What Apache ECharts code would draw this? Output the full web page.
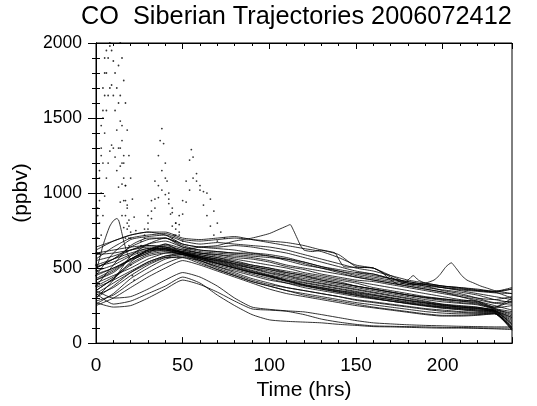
<!DOCTYPE html>
<html>
<head>
<meta charset="utf-8">
<script src="https://cdn.jsdelivr.net/npm/echarts@6/dist/echarts.min.js"></script>
<style>
html,body{margin:0;padding:0;background:#fff;}
#chart{width:537px;height:406px;}
</style>
</head>
<body>
<div id="chart"></div>
<script>
// ---- Data ----
const titleText = 'CO  Siberian Trajectories 2006072412';
const times = [0,10,20,30,40,50,60,70,80,90,100,110,120,130,140,150,160,170,180,190,200,210,220,230,240];

// upper group
const U1 = [560,640,700,720,730,690,680,690,700,690,680,670,650,620,590,510,500,440,390,390,380,370,355,345,370];
const U2 = [450,600,690,710,720,680,660,670,660,650,640,620,590,560,530,500,480,450,420,400,380,365,350,340,360];
const U3 = [380,520,650,700,700,660,640,640,650,640,620,600,570,540,510,480,460,430,410,390,370,355,345,335,330];
const U4 = [620,680,720,740,740,700,690,700,710,690,670,650,630,610,570,520,500,450,400,380,370,360,350,340,300];
const U5 = [500,560,640,690,700,650,620,610,600,600,590,570,540,510,490,470,450,430,410,390,370,350,330,310,290];
const U6 = [300,420,580,660,700,640,610,600,590,580,570,560,540,510,480,450,430,410,390,370,355,340,320,290,270];
// intermediate group
const P1 = [500,560,620,660,680,640,620,610,600,590,580,560,530,500,480,460,440,420,400,380,350,330,300,270,280];
const P2 = [420,480,560,620,650,620,600,590,580,570,550,520,500,480,460,440,420,400,380,360,340,320,300,290,310];
const P3 = [640,680,720,740,720,660,640,630,620,600,580,550,520,500,470,440,420,400,380,360,340,310,280,250,220];
const P4 = [350,430,540,620,660,630,600,590,570,560,540,510,490,460,440,420,410,390,370,350,330,310,290,265,260];
// main band
const M1 = [420,470,560,620,630,610,580,560,530,500,480,450,420,400,380,360,340,320,300,280,260,250,240,215,160];
const M2 = [350,430,520,580,600,600,570,540,510,480,450,420,390,370,350,330,310,290,270,255,240,230,222,210,140];
const M3 = [480,520,580,620,620,590,550,510,480,450,420,400,380,360,340,320,300,280,265,250,235,225,215,205,110];
const M4 = [300,380,470,540,580,590,550,500,460,420,390,370,350,330,310,285,270,255,240,225,212,205,200,200,95];
const M5 = [550,580,620,650,640,600,570,550,520,500,470,450,430,410,390,370,350,330,310,290,275,265,255,225,180];
const M6 = [260,330,430,500,560,580,540,490,450,410,380,350,320,300,280,260,240,225,210,195,185,185,190,195,85];
const M7 = [400,450,500,560,600,610,590,570,540,510,490,460,440,420,400,380,360,340,320,300,285,270,260,230,210];
const M8 = [330,400,470,530,570,570,530,490,450,410,380,350,330,310,290,270,255,240,225,210,200,195,195,200,100];
const M9 = [600,620,640,650,640,610,590,570,550,520,500,480,460,440,420,400,370,350,330,310,295,280,265,230,190];
const M10 = [450,500,550,600,620,600,560,520,490,460,430,400,370,350,330,310,295,280,265,250,240,230,220,210,130];
const M11 = [280,320,400,470,530,570,550,510,470,430,400,370,350,330,310,290,275,260,245,230,220,210,205,200,105];
const M12 = [520,560,600,630,620,590,570,550,530,510,490,470,450,430,410,380,360,340,320,305,290,280,270,235,250];
const M13 = [370,420,480,540,580,600,570,530,500,470,440,410,385,365,345,325,305,290,275,260,245,235,228,212,150];
const M14 = [250,300,370,440,500,550,520,480,440,400,360,330,310,290,270,250,235,220,205,190,180,180,185,195,90];
const M15 = [460,500,560,610,640,620,600,580,560,540,520,500,470,450,430,410,390,370,350,330,310,290,275,240,280];
const M16 = [590,600,620,640,630,600,580,560,540,520,500,470,450,420,400,380,360,340,320,305,295,285,280,240,300];
const M17 = [380,440,530,590,610,590,560,530,500,470,445,415,390,370,350,335,318,300,282,266,250,240,232,218,170];
const M18 = [510,540,590,630,630,600,575,545,515,485,455,430,405,385,365,345,325,305,285,268,252,242,235,220,125];
const M19 = [430,490,560,610,625,605,580,555,525,495,465,440,415,395,375,355,335,315,295,275,258,246,238,222,200];
const M20 = [320,370,450,520,570,590,565,535,505,475,445,415,385,360,338,318,298,280,262,246,232,222,212,205,120];
// lower group
const L1 = [330,260,280,330,380,440,400,320,250,190,155,145,140,135,125,118,110,108,105,102,100,100,98,95,90];
const L2 = [270,240,250,300,360,420,390,340,280,228,220,212,190,160,140,125,115,112,110,108,105,104,102,100,100];
const L3 = [350,300,310,360,420,470,440,380,300,240,225,215,208,190,170,150,135,128,122,118,115,112,110,108,108];

// trajectories with irregular time sampling: [hour, ppbv]
const PK = [[0,480],[2,560],[4,650],[6,720],[8,780],[10,815],[12,830],[13,820],[14,780],[16,680],[18,600],[20,560],[30,600],[40,660],[50,600],[60,560],[70,530],[80,500],[90,470],[100,450],[110,420],[120,400],[130,380],[140,360],[150,340],[160,320],[170,300],[180,285],[190,270],[200,255],[210,240],[220,230],[230,215],[240,170]];
const SPI = [[50,620],[60,640],[70,650],[80,680],[90,700],[100,730],[105,755],[110,780],[112,790],[114,750],[116,700],[118,650],[120,620],[125,610],[130,620],[135,610],[138,600],[140,560],[143,510],[150,505],[160,500],[165,470],[170,420],[175,390],[180,420],[183,450],[186,420],[190,400],[195,390],[200,380],[210,370],[220,360],[230,345],[240,360]];
const SPK = [[150,470],[160,460],[170,430],[180,400],[185,395],[190,400],[195,420],[198,450],[200,480],[202,510],[205,535],[207,510],[209,480],[211,450],[214,420],[218,400],[222,380],[226,365],[230,350],[240,330]];

// dotted spikes (hourly points)
const SPA = [[0,600],[1,850],[2,1150],[3,1450],[4,1700],[5,1900],[6,2050],[12,2050],[13,1850],[14,1650],[15,1450],[16,1250],[17,1050],[18,900],[19,780],[20,700]];
const SPB = [[0,520],[1,700],[2,950],[3,1250],[4,1550],[5,1800],[6,1950],[7,2020],[8,2000],[9,1950],[10,1880],[11,1800],[12,1700],[13,1600],[14,1480],[15,1350],[16,1200],[17,1050],[18,920],[19,820],[20,740]];
const SPC = [[0,450],[1,600],[2,800],[3,1000],[4,1200],[5,1400],[6,1550],[7,1650],[8,1700],[9,1720],[10,1650],[11,1550],[12,1420],[13,1300],[14,1180],[15,1060],[16,950],[17,850],[18,760],[19,700]];
const SPD = [[0,700],[1,900],[2,1100],[3,1300],[4,1500],[5,1650],[6,1800],[7,1900],[8,1980],[9,2040],[14,2000],[15,1900],[16,1750],[17,1600],[18,1420],[19,1250],[20,1100],[21,960],[22,840],[23,750]];
const SPE = [[0,380],[1,480],[2,600],[3,720],[4,850],[5,980],[6,1100],[7,1200],[8,1280],[9,1320],[10,1300],[11,1240],[12,1150],[13,1040],[14,940],[15,850],[16,770],[17,700]];
const SPF = [[14,1300],[15,1200],[16,1100],[17,950],[18,800],[19,650],[20,520],[21,450],[22,420]];
const SPD2 = [[24,600],[26,680],[28,760],[30,850],[32,950],[34,1080],[36,1250],[37,1350],[38,1430],[39,1330],[40,1200],[41,1080],[42,960],[43,860],[44,780],[45,720],[46,680]];
const SPE2 = [[26,650],[28,720],[30,800],[32,880],[34,960],[36,1050],[38,1150],[40,1100],[42,1000],[44,900],[46,800],[48,720],[50,680]];
const SPF2 = [[28,700],[30,760],[32,830],[34,900],[36,970],[38,1020],[40,990],[42,930],[44,870],[46,800],[48,740]];
const SPG = [[44,700],[46,760],[48,850],[50,950],[52,1080],[54,1220],[55,1290],[56,1240],[58,1130],[60,1020],[62,920],[64,850],[66,780],[68,720],[70,680]];
const SPH = [[46,720],[48,790],[50,860],[52,940],[54,1020],[56,1100],[58,1080],[60,1050],[62,1010],[64,1000],[66,960],[68,880],[70,800],[72,740],[74,700]];

const gridLines = [U1,U2,U3,U4,U5,U6,P1,P2,P3,P4,M1,M2,M3,M4,M5,M6,M7,M8,M9,M10,M11,M12,M13,M14,M15,M16,M17,M18,M19,M20,L1,L2,L3];
const pairLines = [PK, SPI, SPK];
const dotSeries = [SPA,SPB,SPC,SPD,SPE,SPF,SPD2,SPE2,SPF2,SPG,SPH];

const xMajorTicks = [0,50,100,150,200];

// ---- Chart ----
const FONT = 'Liberation Sans, Arial, Helvetica, sans-serif';
const chart = echarts.init(document.getElementById('chart'), null, {renderer:'canvas'});

const series = [];
gridLines.forEach(v => series.push({
  type:'line', data: times.map((t,i)=>[t,v[i]]), showSymbol:false, smooth:0.2,
  lineStyle:{color:'#000', width:0.8}, silent:true, animation:false
}));
pairLines.forEach(p => series.push({
  type:'line', data:p, showSymbol:false, smooth:0.2,
  lineStyle:{color:'#000', width:0.8}, silent:true, animation:false
}));
dotSeries.forEach(p => series.push({
  type:'scatter', data:p, symbolSize:1.8, itemStyle:{color:'#000'}, silent:true, animation:false, clip:true
}));

function xAx(pos, interval, len, showLabel, extra){
  return Object.assign({
    type:'value', position:pos, min:0, max:240, interval:interval,
    axisLine:{show:true, lineStyle:{color:'#000', width:1}},
    axisTick:{show:true, inside:true, length:len, lineStyle:{color:'#000', width:1}},
    axisLabel:{show:showLabel, color:'#000', fontSize:19, fontFamily:FONT, margin:13,
      formatter: v => xMajorTicks.indexOf(v) >= 0 ? String(v) : ''},
    splitLine:{show:false}
  }, extra||{});
}
function yAx(pos, showLabel, extra){
  return Object.assign({
    type:'value', position:pos, min:0, max:2000, interval:500,
    axisLine:{show:true, lineStyle:{color:'#000', width:1}},
    axisTick:{show:true, inside:true, length:8, lineStyle:{color:'#000', width:1}},
    minorTick:{show:true, splitNumber:5, length:4, lineStyle:{color:'#000', width:1}},
    axisLabel:{show:showLabel, color:'#000', fontSize:17.5, fontFamily:FONT, margin:14,
      formatter: v => String(v)},
    splitLine:{show:false}, minorSplitLine:{show:false}
  }, extra||{});
}

chart.setOption({
  animation:false,
  backgroundColor:'#fff',
  title:{text:titleText, left:76, top:0,
    textStyle:{color:'#000', fontSize:25.3, fontWeight:'normal', fontFamily:FONT}},
  grid:{left:96, right:25, top:43, bottom:56, containLabel:false,
    show:true, borderColor:'#000', borderWidth:1, backgroundColor:'#fff'},
  xAxis:[
    xAx('bottom',50,6,true,{name:'Time (hrs)', nameLocation:'middle', nameGap:30,
      nameTextStyle:{color:'#000', fontSize:21, fontFamily:FONT}}),
    xAx('bottom',10,3,false),
    xAx('top',50,6,false),
    xAx('top',10,3,false)
  ],
  yAxis:[
    yAx('left',true,{name:'(ppbv)', nameLocation:'middle', nameGap:62, nameRotate:90,
      nameTextStyle:{color:'#000', fontSize:21, fontFamily:FONT}}),
    yAx('right',false)
  ],
  series: series
});
</script>
</body>
</html>
